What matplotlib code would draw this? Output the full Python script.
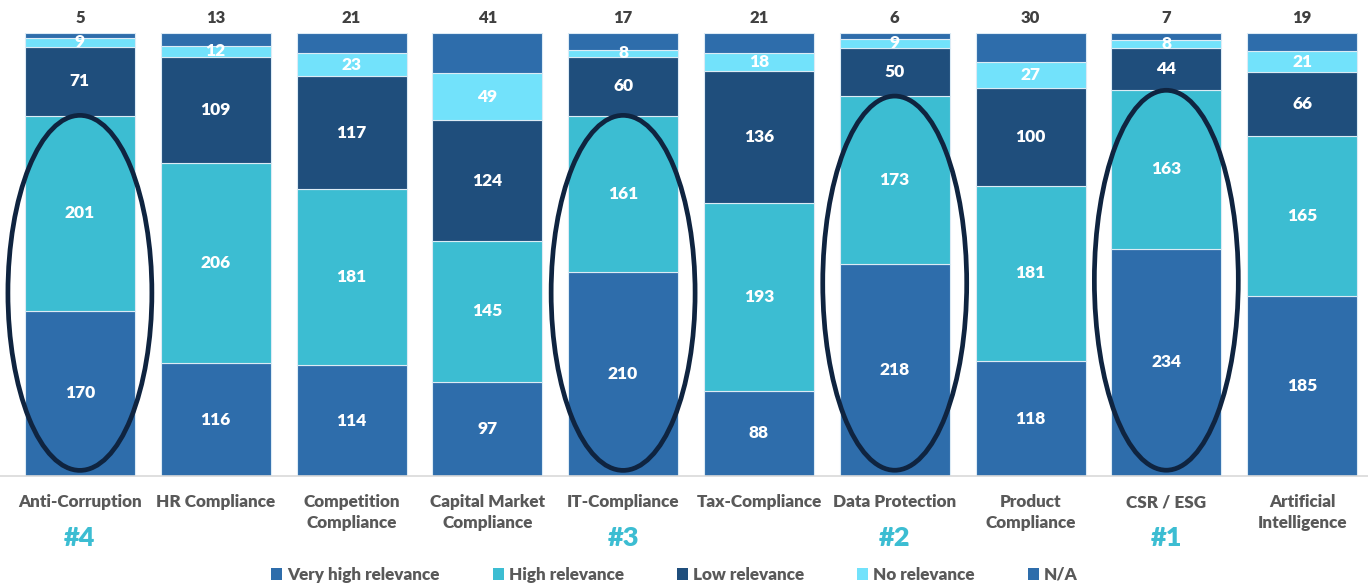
import matplotlib
matplotlib.use("Agg")
import matplotlib.pyplot as plt
from matplotlib.patches import Ellipse, Patch
import numpy as np

plt.rcParams['font.family'] = ['Lato', 'DejaVu Sans']

categories = ["Anti-Corruption", "HR Compliance", "Competition\nCompliance",
              "Capital Market\nCompliance", "IT-Compliance", "Tax-Compliance",
              "Data Protection", "Product\nCompliance", "CSR / ESG",
              "Artificial\nIntelligence"]
very_high = [170, 116, 114, 97, 210, 88, 218, 118, 234, 185]
high = [201, 206, 181, 145, 161, 193, 173, 181, 163, 165]
low = [71, 109, 117, 124, 60, 136, 50, 100, 44, 66]
no_rel = [9, 12, 23, 49, 8, 18, 9, 27, 8, 21]
na = [5, 13, 21, 41, 17, 21, 6, 30, 7, 19]

series_names = ["Very high relevance", "High relevance", "Low relevance",
                "No relevance", "N/A"]
series_colors = ["#2E6DAB", "#3CBDD2", "#1F4E7C", "#72E2FB", "#2E6DAB"]

# top-ranked topics: category index -> rank
ranked = {8: "#1", 6: "#2", 4: "#3", 0: "#4"}

WEIGHT = "heavy"

fig = plt.figure(figsize=(13.68, 5.85), dpi=100)
W, H = 1368, 585
ax = fig.add_axes([12 / W, (H - 476) / H, 1356 / W, 443 / H])

x = np.arange(len(categories))
series = [very_high, high, low, no_rel, na]
bottom = np.zeros(len(categories))
total = np.sum(series, axis=0)
for vals, col, name in zip(series, series_colors, series_names):
    vals = np.array(vals)
    ax.bar(x, vals, bottom=bottom, width=0.81, color=col,
           edgecolor="#DCEBF5", linewidth=0.8, label=name)
    if name != "N/A":
        for xi, b, v in zip(x, bottom, vals):
            ax.text(xi, b + v / 2, str(v), ha="center", va="center",
                    color="white", fontsize=12.5, fontweight=WEIGHT)
    else:
        for xi, t, v in zip(x, total, vals):
            ax.text(xi, t + 7, str(v), ha="center", va="bottom",
                    color="#404040", fontsize=12, fontweight=WEIGHT,
                    clip_on=False)
    bottom += vals

ax.set_xlim(-0.5, 9.485)
ax.set_ylim(0, total.max())
ax.axis("off")
ax.axhline(0, color="#D9D9D9", linewidth=1.2, clip_on=False,
           xmin=-0.01, xmax=1.01)

# highlight rings around top-ranked bars
for idx in ranked:
    top = very_high[idx] + high[idx]
    ax.add_patch(Ellipse((idx, top / 2 + 3), 1.06, top * 0.985,
                         fill=False, edgecolor="#0F2440", linewidth=3.4,
                         clip_on=False, zorder=5))

for xi, cat in zip(x, categories):
    ax.annotate(cat, (xi, 0), xytext=(0, -13), textcoords="offset points",
                ha="center", va="top", fontsize=12.3, fontweight=WEIGHT,
                color="#595959", linespacing=1.4, annotation_clip=False)
for idx, rank in ranked.items():
    ax.annotate(rank, (idx, 0), xytext=(0, -36), textcoords="offset points",
                ha="center", va="top", fontsize=19.5, fontweight=WEIGHT,
                color="#3CBDD2", annotation_clip=False)

handles = [Patch(facecolor=c) for c in series_colors]
leg = fig.legend(handles, series_names, loc="center", ncol=5,
                 bbox_to_anchor=(0.493, 1 - 575 / H), frameon=False,
                 handlelength=0.65, handleheight=0.65, handletextpad=0.3,
                 columnspacing=3.1, prop={"size": 12.3, "weight": WEIGHT})
for t in leg.get_texts():
    t.set_color("#595959")

fig.savefig("out.png", dpi=100)
